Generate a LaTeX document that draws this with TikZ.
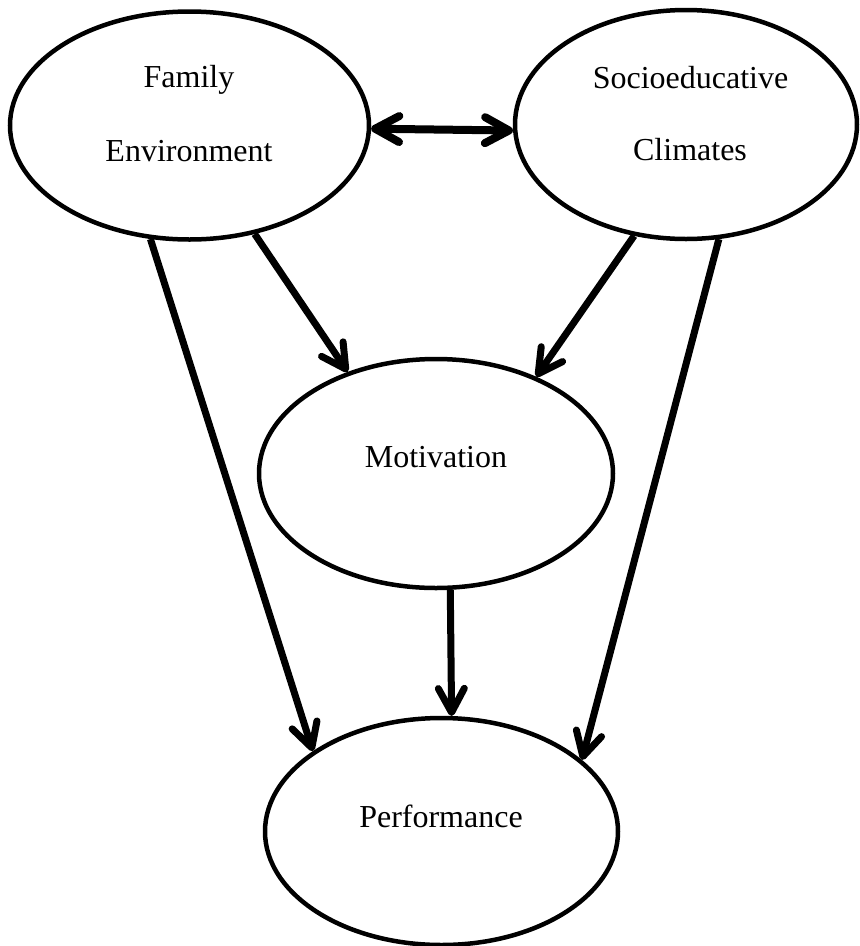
\documentclass[tikz,border=0pt]{standalone}
\usepackage{fontspec}
\setmainfont{Liberation Serif}
\usetikzlibrary{shapes.geometric,arrows.meta}
\tikzset{
  oval/.style={ellipse, draw, line width=4.5pt, inner sep=0pt},
  lbl/.style={anchor=base, inner sep=0pt, font=\fontsize{32}{38}\selectfont},
  conn/.style={line width=7pt, -{Straight Barb[length=24pt, width=26pt, round]}},
  dconn/.style={line width=8pt, {Straight Barb[length=24pt, width=26pt, round]}-{Straight Barb[length=24pt, width=26pt, round]}}
}
\begin{document}
\begin{tikzpicture}[x=1pt, y=-1pt]
\useasboundingbox (0,0) rectangle (860,946);
\node[oval, minimum width=359pt, minimum height=228pt] (fam) at (189.5,125.5) {};
\node[oval, minimum width=342pt, minimum height=229pt] (soc) at (686,124.5) {};
\node[oval, minimum width=354pt, minimum height=229pt] (mot) at (436,473.5) {};
\node[oval, minimum width=353pt, minimum height=227pt] (perf) at (441.5,831.5) {};
\node[lbl] (famA) at (189,87) {Family};
\node[lbl] (famB) at (189,161) {Environment};
\node[lbl] (socA) at (690.5,88) {Socioeducative};
\node[lbl] (socB) at (690,160) {Climates};
\node[lbl] (motA) at (436,467) {Motivation};
\node[lbl] (perfA) at (441,827) {Performance};
\draw[dconn] (fam.-1) -- (soc.182);
\draw[conn] (fam.-109.6) -- (perf.148.8);
\draw[conn] (fam.-59.2) -- (mot.131.8);
\draw[conn] (soc.-115.9) -- (mot.44.3);
\draw[conn] (soc.-74.6) -- (perf.27.3);
\draw[conn] (mot.-83.1) -- (perf.85.8);
\end{tikzpicture}
\end{document}
